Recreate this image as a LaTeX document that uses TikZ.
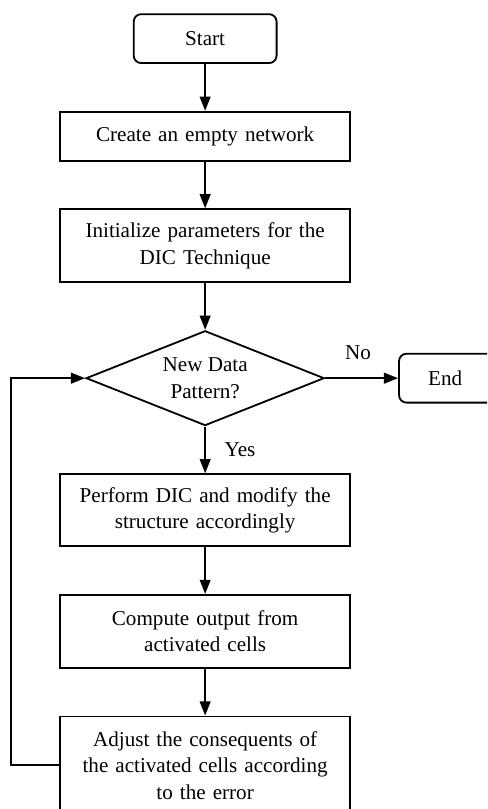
\documentclass[tikz,border=0pt]{standalone}
\usepackage{fontspec}
\setmainfont{Liberation Serif}
\usepackage{tikz}
\usetikzlibrary{shapes.geometric, arrows.meta, positioning, calc}
\tikzset{
  fc terminal/.style={
    rectangle, rounded corners=5pt, draw=black, line width=1.2pt,
    minimum width=3.33cm, minimum height=1.14cm,
    text centered, font=\fontsize{14}{17.5}\selectfont
  },
  fc process/.style={
    rectangle, draw=black, line width=1.2pt,
    text width=6.3cm, minimum width=6.76cm, minimum height=1.14cm,
    text centered, font=\fontsize{14}{17.5}\selectfont, inner sep=2pt
  },
  fc decision/.style={
    diamond, draw=black, line width=1.2pt, aspect=2.5,
    minimum width=5.55cm, minimum height=2.21cm,
    text centered, font=\fontsize{14}{17.5}\selectfont, inner sep=0pt
  },
  fc arrow/.style={
    -{Triangle[length=3.3mm, width=2.5mm]}, line width=1.2pt, draw=black
  },
  fc label/.style={
    font=\fontsize{14}{16}\selectfont
  }
}

\begin{document}
\begin{tikzpicture}[node distance=1.09cm and 1.70cm, align=center]
  \useasboundingbox (0,0) rectangle (11.35,-18.85);
  \clip (0,0) rectangle (11.35,-18.85);

  \node (start) [fc terminal] at (4.78,-0.90) {Start};
  \node (create) [fc process, below=of start] {Create an empty network};
  \node (init) [fc process, below=of create, minimum height=1.70cm] {Initialize parameters for the\\DIC Technique};
  \node (newdata) [fc decision, below=of init] {New Data\\Pattern?};
  \node (end) [fc terminal, right=of newdata, minimum width=2.6cm, anchor=west] {\hspace*{-0.45cm}End};
  \node (perform) [fc process, below=of newdata, minimum height=1.68cm] {Perform DIC and modify the\\structure accordingly};
  \node (compute) [fc process, below=of perform, minimum height=1.70cm] {Compute output from\\activated cells};
  \node (adjust) [fc process, below=of compute, minimum height=2.28cm] {Adjust the consequents of\\the activated cells according\\to the error};

  \draw [fc arrow] (start) -- (create);
  \draw [fc arrow] (create) -- (init);
  \draw [fc arrow] (init) -- (newdata);
  \draw [fc arrow] (newdata) -- node[fc label, above=8pt, pos=0.45] {No} (end);
  \draw [fc arrow] (newdata) -- node[fc label, right=9pt] {Yes} (perform);
  \draw [fc arrow] (perform) -- (compute);
  \draw [fc arrow] (compute) -- (adjust);
  \draw [fc arrow] (adjust.west) -- ++(-1.12,0) |- (newdata.west);
\end{tikzpicture}
\end{document}
